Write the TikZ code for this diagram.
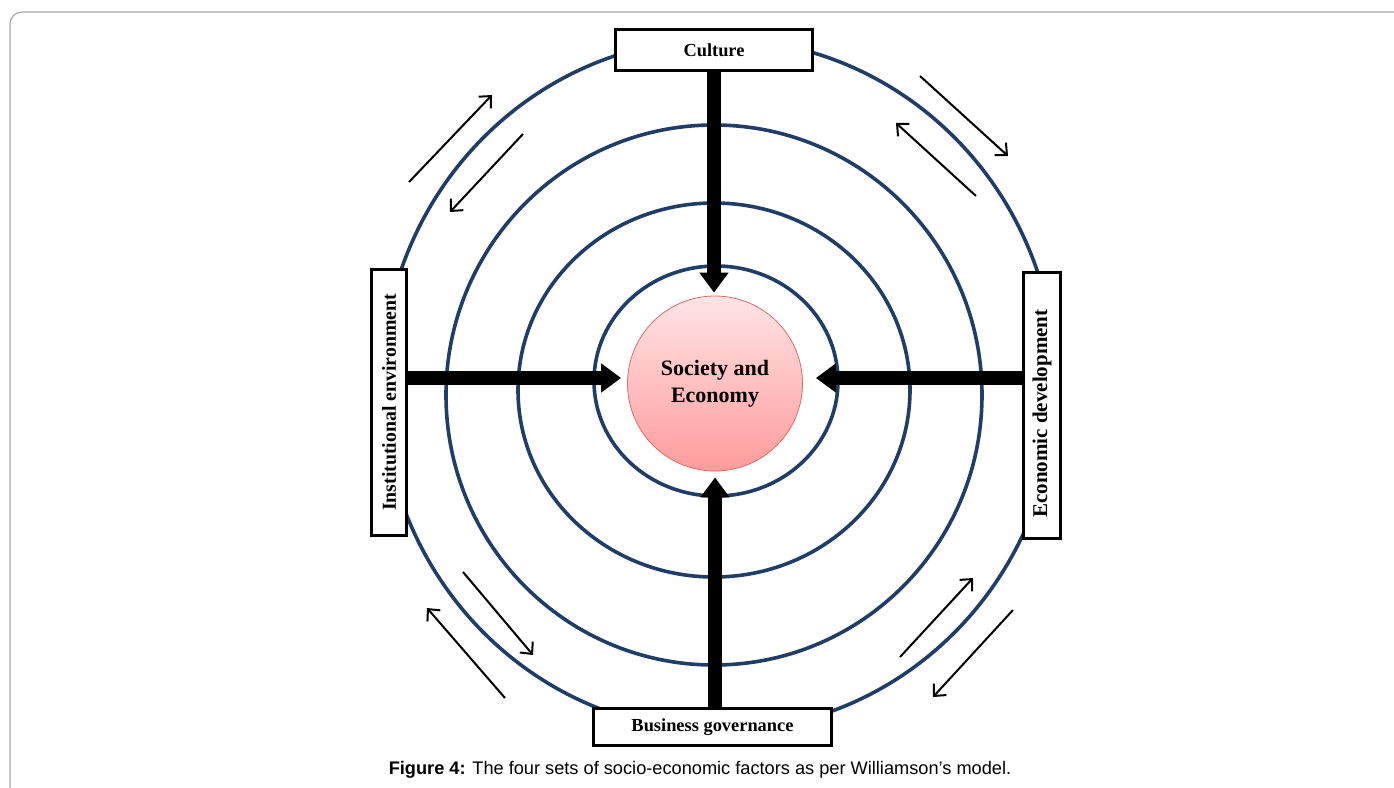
\documentclass[tikz,border=0pt]{standalone}
\usepackage{fontspec}
\setmainfont{Liberation Serif}
\newfontfamily\capfont{Liberation Sans}
\usetikzlibrary{arrows.meta}

\definecolor{ringblue}{HTML}{1F3D66}
\definecolor{coretop}{HTML}{FFE4E5}
\definecolor{corebot}{HTML}{FF9B9B}
\definecolor{coreedge}{HTML}{E06A6A}

\tikzset{
  ring/.style={draw=ringblue, line width=1.8pt},
  factor/.style={draw, line width=1.5pt, fill=white, inner sep=0pt,
    font=\bfseries\fontsize{9.2}{11}\selectfont},
  core/.style={circle, draw=coreedge, line width=0.4pt, top color=coretop,
    bottom color=corebot, minimum size=87.5pt, inner sep=0pt, align=center,
    font=\bfseries\fontsize{11}{13.5}\selectfont},
  bigarrow/.style={line width=7pt, -{Triangle[length=10pt,width=14pt]}},
  flow/.style={line width=1pt, -{Straight Barb[length=4.5pt,width=8.5pt]}},
}

\begin{document}
\begin{tikzpicture}[x=0.5pt,y=-0.5pt]
  \useasboundingbox (0,0) rectangle (1394,788);
  \draw[gray!70, line width=0.6pt, rounded corners=6pt] (10,12) rectangle (1420,820);

  % rings
  \draw[ring] (716,381) ellipse [x radius=122, y radius=115];
  \draw[ring] (714,390) ellipse [x radius=196, y radius=187];
  \draw[ring] (714,395) ellipse [x radius=268, y radius=270];
  \draw[ring] (719,385) ellipse [x radius=337, y radius=346];

  % factors
  \node[factor, minimum width=98.5pt, minimum height=20.5pt] (culture) at (714,50) {Culture};
  \node[factor, rotate=90, minimum width=133pt, minimum height=17.5pt,
    font=\bfseries\fontsize{9.9}{11}\selectfont] (inst) at (389,402.5) {Institutional environment};
  \node[factor, rotate=90, minimum width=133pt, minimum height=18.5pt,
    font=\bfseries\fontsize{10.5}{11}\selectfont] (econ) at (1042,405.5) {\hspace*{-8pt}Economic development};
  \node[factor, minimum width=119pt, minimum height=18.5pt] (business) at (712.5,727) {Business governance};
  \node[core] (core) at (715,383.5) {Society and\\Economy};
  \coordinate (mid) at (715,378);

  \draw[bigarrow, shorten >=1.5pt] (culture.south) -- (culture.south |- core.north);
  \draw[bigarrow, shorten >=3pt] (inst.south |- mid) -- (core.west |- mid);
  \draw[bigarrow, shorten >=6.5pt] (econ.north |- mid) -- (core.east |- mid);
  \draw[bigarrow, shorten >=3pt] (core.south |- business.north) -- (core.south);

  % thin arrows between the rings
  \foreach \n/\ax/\ay/\bx/\by in {1/409/182/492/95, 2/523/134/450/212,
      3/920/76/1008/156, 4/976/196/896/123,
      5/463/572/533/655, 6/505/698/427/608,
      7/900/657/973/578, 8/1013/610/933/697}{
    \coordinate (tail\n) at (\ax,\ay);
    \coordinate (head\n) at (\bx,\by);
    \draw[flow] (tail\n) -- (head\n);
  }

  \node[font=\capfont\fontsize{9.1}{11}\selectfont] (caption) at (700,770)
    {\textbf{Figure 4:} The four sets of socio-economic factors as per Williamson’s model.};
\end{tikzpicture}
\end{document}
